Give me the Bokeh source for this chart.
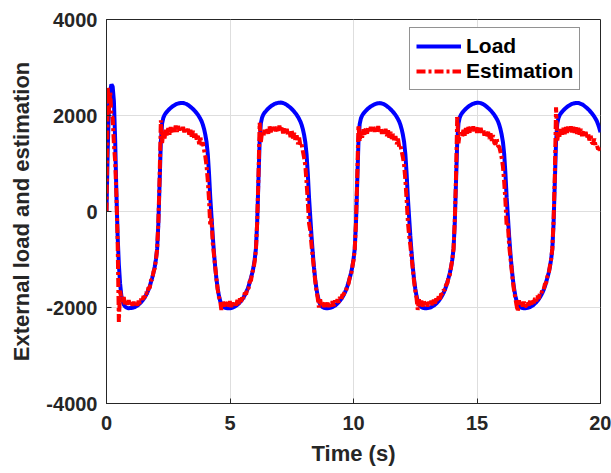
import numpy as np
from bokeh.plotting import figure
from bokeh.models import Range1d, FixedTicker, Legend, LegendItem
from bokeh.embed import file_html
from bokeh.resources import INLINE

# time samples every 0.05 s from 0 to 20 s
time_s = np.round(np.arange(401) * 0.05, 2)

# External load (blue), one list per 4 s
load_0_4 = [0, 1300, 2200, 2520, 2650, 2600, 2300, 1500, 400, -500, -1100, -1500, -1750, -1870, -1940, -1980, -2000, -2010, -2015, -2012,
            -2010, -2005, -2000, -1990, -1975, -1960, -1940, -1915, -1890, -1860, -1825, -1785, -1740, -1690, -1630, -1560, -1470, -1380, -1280, -1160,
            -1000, -780, -250, 600, 1450, 1830, 1950, 2010, 2050, 2080, 2110, 2135, 2160, 2180, 2200, 2215, 2230, 2240, 2250, 2255,
            2260, 2262, 2260, 2255, 2245, 2235, 2220, 2200, 2180, 2160, 2135, 2110, 2080, 2050, 2015, 1975, 1930, 1880, 1810, 1720]
load_4_8 = [1600, 1450, 1200, 800, 300, -100, -500, -850, -1150, -1400, -1600, -1750, -1860, -1930, -1970, -1990, -2005, -2010, -2015, -2015,
            -2015, -2010, -2002, -1992, -1978, -1962, -1942, -1918, -1892, -1862, -1828, -1788, -1742, -1692, -1632, -1562, -1472, -1382, -1282, -1162,
            -1000, -770, -230, 620, 1460, 1840, 1960, 2020, 2060, 2090, 2120, 2145, 2170, 2190, 2210, 2225, 2240, 2250, 2258, 2264,
            2268, 2270, 2266, 2260, 2250, 2238, 2222, 2202, 2182, 2160, 2136, 2110, 2080, 2048, 2012, 1972, 1926, 1874, 1804, 1714]
load_8_12 = [1595, 1440, 1190, 790, 290, -110, -510, -860, -1160, -1410, -1610, -1760, -1865, -1935, -1972, -1992, -2006, -2012, -2016, -2016,
             -2012, -2006, -2000, -1990, -1976, -1960, -1940, -1916, -1890, -1860, -1826, -1786, -1740, -1690, -1630, -1560, -1470, -1380, -1280, -1160,
             -1000, -780, -250, 600, 1440, 1820, 1940, 2000, 2040, 2070, 2100, 2125, 2150, 2170, 2190, 2205, 2220, 2232, 2242, 2250,
             2255, 2258, 2256, 2250, 2240, 2230, 2215, 2196, 2176, 2155, 2130, 2104, 2075, 2044, 2010, 1970, 1925, 1875, 1805, 1715]
load_12_16 = [1598, 1445, 1195, 795, 295, -105, -505, -855, -1155, -1405, -1605, -1755, -1862, -1932, -1971, -1991, -2006, -2011, -2016, -2016,
              -2012, -2006, -2001, -1991, -1976, -1961, -1941, -1916, -1891, -1861, -1826, -1786, -1741, -1691, -1631, -1561, -1471, -1381, -1281, -1161,
              -1000, -775, -240, 610, 1455, 1835, 1955, 2015, 2055, 2085, 2115, 2140, 2165, 2185, 2205, 2220, 2235, 2245, 2254, 2260,
              2264, 2266, 2263, 2257, 2247, 2236, 2220, 2200, 2180, 2158, 2134, 2108, 2078, 2047, 2012, 1972, 1928, 1877, 1807, 1717]
load_16_20 = [1598, 1448, 1198, 798, 298, -102, -502, -852, -1152, -1402, -1602, -1752, -1860, -1930, -1970, -1990, -2005, -2010, -2015, -2015,
              -2011, -2005, -2000, -1990, -1975, -1960, -1940, -1915, -1890, -1860, -1825, -1785, -1740, -1690, -1630, -1560, -1470, -1380, -1280, -1160,
              -1000, -780, -250, 600, 1450, 1830, 1950, 2010, 2050, 2080, 2110, 2135, 2160, 2180, 2200, 2215, 2230, 2240, 2250, 2256,
              2260, 2262, 2260, 2254, 2244, 2234, 2218, 2198, 2178, 2156, 2132, 2106, 2076, 2045, 2012, 1975, 1932, 1884, 1820, 1740,
              1650]

# Estimation (red dash-dot)
est_0_4 = [0, 2600, 2050, 2500, 1980, 1950, 1400, 1050, 350, -600, -2300, -1650, -1820, -1880, -1780, -1960, -1860, -1940, -1850, -1960,
           -1870, -1960, -1880, -1980, -1900, -1960, -1860, -1920, -1820, -1880, -1760, -1800, -1680, -1720, -1580, -1600, -1430, -1420, -1260, -1190,
           -1010, -780, -200, 700, 1900, 1420, 1660, 1520, 1700, 1560, 1740, 1600, 1760, 1630, 1740, 1660, 1790, 1660, 1780, 1690,
           1780, 1680, 1760, 1650, 1740, 1640, 1720, 1600, 1700, 1560, 1680, 1520, 1620, 1500, 1580, 1400, 1560, 1380, 1440, 1280]
est_4_8 = [1150, 950, 650, 250, -300, -150, -650, -900, -1150, -1400, -1620, -1780, -1850, -2050, -1860, -1980, -1860, -1990, -1890, -1980,
           -1870, -1990, -1900, -1980, -1870, -1960, -1840, -1930, -1810, -1880, -1750, -1820, -1690, -1730, -1600, -1610, -1450, -1440, -1270, -1210,
           -1030, -800, -230, 680, 1850, 1450, 1660, 1560, 1700, 1600, 1740, 1620, 1770, 1650, 1760, 1660, 1790, 1670, 1770, 1660,
           1790, 1660, 1760, 1630, 1750, 1610, 1720, 1580, 1700, 1550, 1680, 1520, 1640, 1470, 1590, 1400, 1540, 1370, 1400, 1260]
est_8_12 = [1120, 950, 600, 200, -250, -400, -700, -950, -1200, -1450, -1650, -1800, -2000, -1830, -1970, -1870, -1990, -1880, -1980, -1900,
            -1990, -1890, -1980, -1870, -1970, -1850, -1930, -1830, -1900, -1780, -1850, -1730, -1740, -1650, -1650, -1530, -1510, -1370, -1330, -1160,
            -1020, -790, -220, 700, 1800, 1460, 1660, 1540, 1710, 1600, 1740, 1620, 1770, 1640, 1760, 1650, 1790, 1660, 1770, 1640,
            1780, 1660, 1750, 1620, 1740, 1600, 1720, 1570, 1690, 1540, 1660, 1510, 1620, 1450, 1570, 1400, 1520, 1350, 1380, 1250]
est_12_16 = [1130, 960, 650, 250, -200, -500, -700, -950, -1200, -1450, -1650, -1800, -2050, -1830, -1960, -1860, -1980, -1870, -1970, -1890,
             -1980, -1880, -1970, -1860, -1950, -1840, -1920, -1810, -1880, -1760, -1830, -1710, -1730, -1630, -1640, -1520, -1500, -1360, -1320, -1150,
             -1010, -780, -200, 720, 2000, 1420, 1640, 1600, 1560, 1700, 1580, 1740, 1620, 1760, 1640, 1790, 1660, 1770, 1650, 1760,
             1640, 1760, 1620, 1740, 1600, 1720, 1580, 1690, 1550, 1660, 1510, 1630, 1470, 1590, 1430, 1400, 1520, 1360, 1350, 1240]
est_16_20 = [1110, 940, 620, 220, -300, -250, -700, -950, -1200, -1450, -1650, -1800, -1950, -2080, -1850, -1970, -1870, -1980, -1880, -1970,
             -1970, -1880, -1960, -1860, -1940, -1840, -1910, -1800, -1870, -1750, -1820, -1700, -1720, -1620, -1630, -1510, -1490, -1350, -1310, -1140,
             -1000, -770, -180, 750, 2170, 1480, 1660, 1540, 1720, 1600, 1740, 1610, 1760, 1640, 1780, 1660, 1770, 1650, 1760, 1640,
             1750, 1620, 1740, 1600, 1720, 1570, 1690, 1540, 1660, 1520, 1630, 1480, 1590, 1440, 1410, 1520, 1370, 1390, 1300, 1310,
             1270]

x_ticks = [0, 5, 10, 15, 20]
y_ticks = [-4000, -2000, 0, 2000, 4000]

load = load_0_4 + load_4_8 + load_8_12 + load_12_16 + load_16_20
est = est_0_4 + est_4_8 + est_8_12 + est_12_16 + est_16_20

FONT = "Liberation Sans"
AX = "#262626"

p = figure(width=611, height=473, x_range=Range1d(0, 20), y_range=Range1d(-4000, 4000),
           output_backend="svg", toolbar_location=None,
           min_border_left=106, min_border_right=11, min_border_top=19, min_border_bottom=70)
p.background_fill_color = "white"
p.border_fill_color = "white"
p.outline_line_color = AX
p.outline_line_width = 1

r_load = p.line(time_s, load, line_color="#0000FF", line_width=4)
r_est = p.line(time_s, est, line_color="#FF0000", line_width=4, line_dash="9 3 3 3")

for ax, ticks in ((p.xaxis[0], x_ticks), (p.yaxis[0], y_ticks)):
    ax.ticker = FixedTicker(ticks=ticks)
    ax.major_label_overrides = {t: str(t) for t in ticks}
    ax.major_tick_in = 5
    ax.major_tick_out = 0
    ax.minor_tick_line_color = None
    ax.axis_line_color = AX
    ax.major_tick_line_color = AX
    ax.major_label_text_font = FONT
    ax.major_label_text_font_style = "bold"
    ax.major_label_text_font_size = "20px"
    ax.major_label_text_color = AX
    ax.axis_label_text_font = FONT
    ax.axis_label_text_font_style = "bold"
    ax.axis_label_text_font_size = "22px"
    ax.axis_label_text_color = AX

p.xaxis.axis_label = "Time (s)"
p.yaxis.axis_label = "External load and estimation"
p.xaxis.major_label_standoff = 12
p.yaxis.major_label_standoff = 9
p.xaxis.axis_label_standoff = 8
p.yaxis.axis_label_standoff = 9

p.xgrid.ticker = FixedTicker(ticks=x_ticks)
p.ygrid.ticker = FixedTicker(ticks=y_ticks)
p.grid.grid_line_color = "#DEDEDE"
p.grid.grid_line_width = 1

legend = Legend(items=[LegendItem(label="Load", renderers=[r_load]),
                       LegendItem(label="Estimation", renderers=[r_est])],
                location=(303, 313))
legend.label_text_font = FONT
legend.label_text_font_style = "bold"
legend.label_text_font_size = "21px"
legend.label_text_color = "black"
legend.glyph_width = 45
legend.glyph_height = 24
legend.label_height = 24
legend.label_standoff = 5
legend.padding = 6
legend.spacing = 1
legend.margin = 0
legend.border_line_color = AX
legend.border_line_width = 1
legend.background_fill_alpha = 1
p.add_layout(legend)

open("out.html", "w").write(file_html(p, INLINE))
